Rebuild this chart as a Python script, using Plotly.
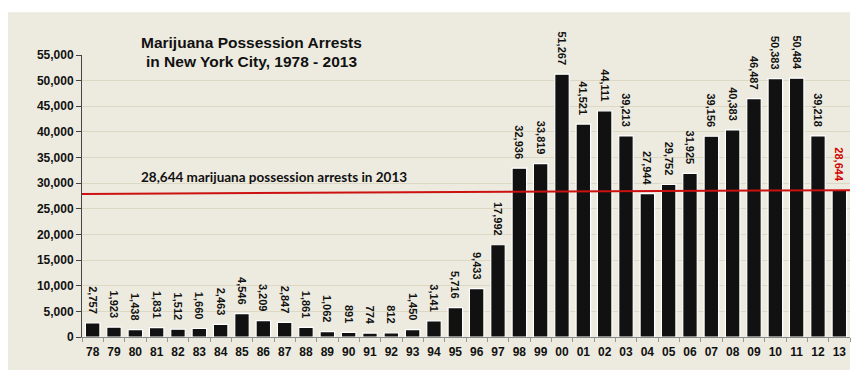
import plotly.graph_objects as go

years = ["78", "79", "80", "81", "82", "83", "84", "85", "86", "87", "88", "89",
         "90", "91", "92", "93", "94", "95", "96", "97", "98", "99", "00", "01",
         "02", "03", "04", "05", "06", "07", "08", "09", "10", "11", "12", "13"]
arrests = [2757, 1923, 1438, 1831, 1512, 1660, 2463, 4546, 3209, 2847, 1861, 1062,
           891, 774, 812, 1450, 3141, 5716, 9433, 17992, 32936, 33819, 51267, 41521,
           44111, 39213, 27944, 29752, 31925, 39156, 40383, 46487, 50383, 50484, 39218, 28644]
ref_line_start = 27900
ref_line_end = 28644
y_ticks = list(range(0, 55001, 5000))

label_colors = ["#111111"] * (len(years) - 1) + ["#D00000"]

fig = go.Figure()
fig.add_trace(go.Bar(
    x=years, y=arrests,
    marker=dict(color="#111111", line=dict(color="white", width=1.2)),
    text=[f"{v:,}\u00a0\u00a0" for v in arrests],
    textposition="outside",
    textangle=90,
    constraintext="none",
    cliponaxis=False,
    textfont=dict(family="Liberation Sans", size=11, color=label_colors, weight="bold"),
    hoverinfo="skip",
))

bg = "#EDEBE0"
fig.add_shape(type="rect", xref="paper", yref="paper",
              x0=-0.0964, x1=1.0, y0=-0.117, y1=1.152,
              fillcolor=bg, line=dict(width=0), layer="below")
fig.add_shape(type="line", xref="paper", yref="y",
              x0=0, x1=1, y0=ref_line_start, y1=ref_line_end,
              line=dict(color="#CC1111", width=2), layer="above")

title_font = dict(family="Liberation Sans", size=15.5, color="#111111")
fig.add_annotation(text="<b>Marijuana Possession Arrests</b>",
                   xref="paper", yref="paper", x=(251 - 82) / 768, y=(337 - 43) / 282,
                   xanchor="center", yanchor="middle", showarrow=False, font=title_font)
fig.add_annotation(text="<b>in New York City, 1978 - 2013</b>",
                   xref="paper", yref="paper", x=(251 - 82) / 768, y=(337 - 61) / 282,
                   xanchor="center", yanchor="middle", showarrow=False, font=title_font)
fig.add_annotation(text="<b>28,644 marijuana possession arrests in 2013</b>",
                   xref="paper", yref="paper", x=(274 - 82) / 768, y=(337 - 177) / 282,
                   xanchor="center", yanchor="middle",
                   showarrow=False,
                   font=dict(family="Lato", size=13.5, color="#111111"))

# page body adds an 8px offset, so the figure is 8px smaller than the window
fig.update_layout(
    width=860, height=375,
    margin=dict(l=74, r=18, t=47, b=46),
    paper_bgcolor="white",
    plot_bgcolor="rgba(0,0,0,0)",
    bargap=0.32,
    showlegend=False,
    uniformtext=dict(minsize=11, mode="show"),
    font=dict(family="Liberation Sans", size=12, color="#111111"),
)
fig.update_yaxes(range=[0, 55000], tickvals=y_ticks,
                 ticktext=[f"{v:,}" for v in y_ticks],
                 tickfont=dict(size=12, weight="bold"),
                 showgrid=True, gridcolor="#DCD8C4", gridwidth=1,
                 showline=True, linecolor="#444444", linewidth=1,
                 ticks="outside", ticklen=5, tickcolor="#444444",
                 zeroline=False)
fig.update_xaxes(tickfont=dict(size=12, weight="bold"), tickangle=0,
                 showline=True, linecolor="#888888", linewidth=1,
                 ticks="outside", ticklen=4, tickcolor="#999999",
                 ticklabelstandoff=4,
                 tickson="boundaries", range=[-0.5, len(years) - 0.5])

fig.write_html("out.html")
